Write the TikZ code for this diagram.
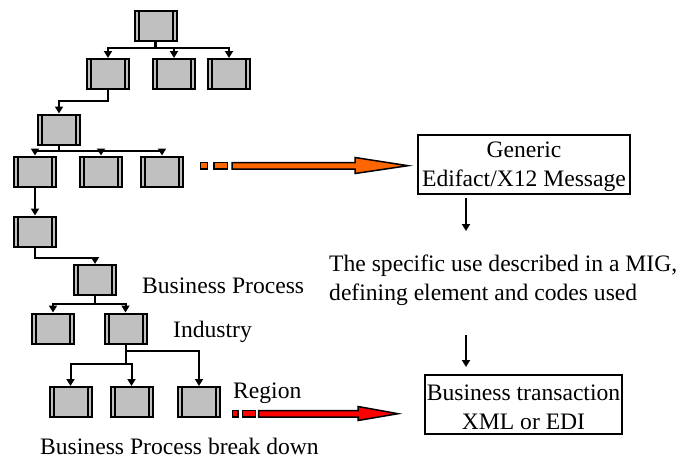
\documentclass[tikz,border=0pt]{standalone}
\usepackage{fontspec}
\setmainfont{Liberation Serif}
\usetikzlibrary{arrows.meta,calc}
\definecolor{boxgray}{HTML}{C0C0C0}
\definecolor{orangeA}{HTML}{FF6600}
\definecolor{redA}{HTML}{FF0000}
\begin{document}
\begin{tikzpicture}[x=1pt,y=-1pt,
  proc/.style={draw, line width=2pt, fill=boxgray, minimum width=42pt, minimum height=30pt, inner sep=0pt,
    path picture={
      \draw[line width=2pt] ([xshift=4pt]path picture bounding box.north west) -- ([xshift=4pt]path picture bounding box.south west);
      \draw[line width=2pt] ([xshift=-4pt]path picture bounding box.north east) -- ([xshift=-4pt]path picture bounding box.south east);}},
  conn/.style={line width=2pt},
  arr/.style={conn, -{Triangle[length=7pt,width=8pt]}},
  txt/.style={font=\fontsize{23.6}{29}\selectfont, inner sep=0pt},
  tbox/.style={txt, draw, line width=1.7pt, align=center},
  blockarrow/.style={draw, line width=1.5pt, line join=miter}
]
\useasboundingbox (0,0) rectangle (683,458);

% process boxes
\node[proc] (b1) at (155.5,26) {};
\node[proc] (r2a) at (108,74) {};
\node[proc] (r2b) at (174,74) {};
\node[proc] (r2c) at (229,74) {};
\node[proc] (r3) at (59,129.5) {};
\node[proc] (r4a) at (35,171.5) {};
\node[proc] (r4b) at (101,171.5) {};
\node[proc] (r4c) at (162,171.5) {};
\node[proc] (r5) at (35,231.5) {};
\node[proc] (r6) at (95,280) {};
\node[proc] (r7a) at (53,328.5) {};
\node[proc] (r7b) at (125.5,328.5) {};
\node[proc] (r8a) at (70.5,402) {};
\node[proc] (r8b) at (131.5,402) {};
\node[proc] (r8c) at (199,402) {};

% tree connectors
\coordinate (h1) at (155.5,48);
\draw[line width=3pt] (b1.south) -- (h1);
\draw[arr] (h1) -| (r2a.north);
\draw[arr] (h1) -| (r2b.north);
\draw[arr] (h1) -| (r2c.north);
\draw[arr] (r2a.south) -- ++(0,11) -| (r3.north);
\coordinate (h3) at (59,151);
\draw[conn] (r3.south) -- (h3);
\draw[arr] (h3) -| (r4a.north);
\draw[arr] (h3) -| (r4b.north);
\draw[arr] (h3) -| (r4c.north);
\draw[arr] (r4a.south) -- (r5.north);
\draw[arr] (r5.south) -- ++(0,10) -| (r6.north);
\coordinate (h6) at (95,304);
\draw[conn] (r6.south) -- (h6);
\draw[arr] (h6) -| (r7a.north);
\draw[arr] (h6) -| (r7b.north);
\coordinate (h7) at (125.5,364);
\coordinate (h7b) at (127,351);
\draw[conn] (r7b.south) -- (h7);
\draw[arr] (h7) -| (r8a.north);
\draw[arr] (h7) -| (r8b.north);
\draw[arr] (h7b) -| (r8c.north);

% labels
\node[txt, anchor=base west] (lbp) at (142,293) {Business Process};
\node[txt, anchor=base west] (lind) at (173,337) {Industry};
\node[txt, anchor=base west] (lreg) at (233,398) {Region};
\node[txt, anchor=base west] (lbd) at (40,454) {Business Process break down};

% right side
\node[draw, line width=1.7pt, minimum width=212pt, minimum height=59pt, inner sep=0pt] (g) at (524,164.5) {};
\node[txt, align=center] (gt) at (524,167) {Generic\\Edifact/X12 Message};
\node[txt, anchor=west, align=left] (spec) at (329,280.5) {The specific use described in a MIG,\\defining element and codes used};
\node[draw, line width=1.7pt, minimum width=197pt, minimum height=59pt, inner sep=0pt] (t) at (523.5,404.5) {};
\node[txt, align=center] (tt) at (523.5,407.5) {Business transaction\\XML or EDI};
\coordinate (a1s) at (466,198);
\coordinate (a1e) at (466,231);
\coordinate (a2s) at (466,335);
\coordinate (a2e) at (466,367);
\draw[arr] (a1s) -- (a1e);
\draw[arr] (a2s) -- (a2e);

% orange block arrow
\filldraw[blockarrow, fill=orangeA] (200.5,162.5) rectangle (207.5,169);
\filldraw[blockarrow, fill=orangeA] (214,162.5) rectangle (227.5,169);
\filldraw[blockarrow, fill=orangeA] (232,162.5) -- (355,162.5) -- (355,157.5) -- (408,165.7) -- (355,173.5) -- (355,169) -- (232,169) -- cycle;

% red block arrow
\filldraw[blockarrow, fill=redA] (232.5,410.5) rectangle (238,417);
\filldraw[blockarrow, fill=redA] (242.5,410.5) rectangle (255.5,417);
\filldraw[blockarrow, fill=redA] (258.5,410.5) -- (358,410.5) -- (358,406.5) -- (398,413.7) -- (358,420.5) -- (358,417) -- (258.5,417) -- cycle;
\end{tikzpicture}
\end{document}
